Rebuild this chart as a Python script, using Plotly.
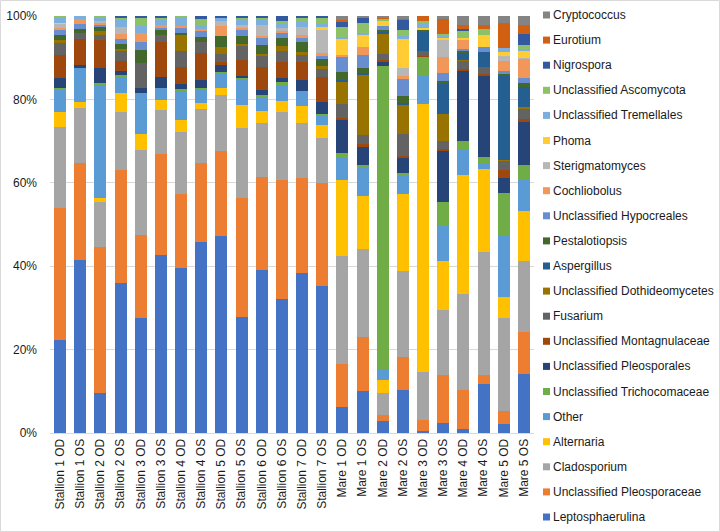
import plotly.graph_objects as go

categories = ["Stallion 1 OD", "Stallion 1 OS", "Stallion 2 OD", "Stallion 2 OS", "Stallion 3 OD",
              "Stallion 3 OS", "Stallion 4 OD", "Stallion 4 OS", "Stallion 5 OD", "Stallion 5 OS",
              "Stallion 6 OD", "Stallion 6 OS", "Stallion 7 OD", "Stallion 7 OS", "Mare 1 OD",
              "Mare 1 OS", "Mare 2 OD", "Mare 2 OS", "Mare 3 OD", "Mare 3 OS", "Mare 4 OD",
              "Mare 4 OS", "Mare 5 OD", "Mare 5 OS"]

leptosphaerulina = [22.4, 41.5, 9.6, 35.9, 27.5, 42.7, 39.5, 46.0, 47.3, 27.8, 39.1, 32.2, 38.3, 35.3, 6.2, 10.2, 3.0, 10.2, 0.6, 2.4, 1.0, 11.8, 2.2, 14.2]
pleosporaceae = [31.7, 23.2, 35.1, 27.2, 20.0, 24.2, 17.6, 18.9, 20.4, 28.5, 22.2, 28.5, 22.8, 24.8, 10.4, 12.9, 1.4, 8.1, 2.4, 11.4, 9.3, 2.2, 3.2, 10.0]
cladosporium = [19.3, 13.2, 10.8, 13.9, 20.3, 10.5, 14.8, 13.0, 13.3, 16.6, 12.9, 16.3, 13.3, 10.8, 25.9, 21.2, 5.1, 20.6, 11.6, 15.7, 23.0, 29.6, 22.2, 17.1]
alternaria = [3.7, 1.5, 1.0, 4.6, 3.8, 2.4, 3.0, 1.4, 1.8, 5.6, 2.9, 2.6, 4.0, 3.2, 18.2, 12.8, 3.2, 18.4, 64.4, 11.7, 28.6, 20.1, 5.1, 12.0]
other = [5.3, 8.2, 27.4, 3.8, 10.0, 2.8, 7.0, 3.5, 3.6, 6.1, 3.5, 4.0, 3.6, 2.4, 5.3, 6.6, 2.6, 4.4, 6.8, 8.5, 6.0, 1.4, 14.6, 7.2]
trichocomaceae = [0.3, 0, 0.4, 0.5, 0, 0, 0.4, 0.2, 0.2, 0.3, 0.3, 0.4, 0.2, 0.3, 1.0, 0.8, 72.8, 0.6, 4.4, 5.6, 2.2, 1.5, 10.2, 3.6]
pleosporales = [2.4, 0.6, 3.4, 0.8, 1.1, 2.8, 1.2, 1.8, 1.6, 0.4, 1.2, 1.0, 2.6, 2.8, 7.9, 4.4, 1.0, 3.8, 0, 12.4, 16.8, 19.6, 3.8, 10.5]
montagnulaceae = [5.6, 6.2, 6.8, 2.4, 0, 8.2, 4.0, 6.6, 0.8, 4.0, 5.6, 3.8, 4.2, 6.0, 0.5, 0.6, 0.5, 0.3, 0.2, 0.5, 0.5, 0.4, 1.8, 0.6]
fusarium = [3.0, 1.6, 1.2, 2.4, 6.0, 1.8, 3.8, 2.6, 2.0, 3.2, 2.6, 2.6, 1.8, 2.0, 3.4, 2.2, 1.4, 5.2, 1.1, 1.8, 1.9, 1.6, 2.2, 2.6]
dothideomycetes = [0.6, 0, 1.0, 0.5, 0, 0, 3.8, 0, 1.6, 0.5, 0.5, 1.2, 0.6, 0.6, 5.4, 14.4, 4.8, 7.0, 0, 6.4, 0.2, 0, 0.2, 0.4]
aspergillus = [0, 0, 0, 0, 0, 0, 0, 0, 0, 0, 0, 0, 0, 0, 0.4, 0.6, 0.5, 0.5, 4.6, 7.4, 1.8, 3.6, 20.1, 4.6]
pestalotiopsis = [1.2, 1.0, 1.0, 1.4, 3.2, 1.2, 0.6, 1.2, 2.6, 1.8, 2.0, 2.1, 2.5, 1.8, 2.0, 1.1, 0.5, 1.6, 0.6, 0.6, 0.3, 0, 0.6, 1.0]
hypocreales = [1.2, 1.2, 0.5, 1.2, 1.8, 0.5, 1.1, 1.4, 0, 1.6, 1.8, 1.3, 1.0, 0.8, 3.6, 3.2, 1.0, 4.0, 0, 2.0, 0.5, 1.2, 0.8, 1.2]
cochliobolus = [0.6, 1.0, 0.3, 1.0, 2.2, 0.6, 0.6, 0.5, 2.4, 0.5, 0.5, 0.4, 0.6, 0.6, 0.4, 1.8, 0, 0.8, 0, 3.8, 2.2, 0, 2.4, 4.6]
sterigmatomyces = [1.0, 0, 0.5, 1.8, 0, 0, 0, 0, 1.1, 0.6, 2.5, 0.6, 2.0, 5.6, 0, 0, 0, 2.0, 0, 4.0, 0, 0, 1.0, 0.3]
phoma = [0.2, 0, 0, 0, 0, 0, 0, 0, 0, 0, 0, 0, 0, 0.6, 3.8, 3.0, 1.0, 7.0, 0.5, 0.6, 0.5, 3.0, 1.0, 1.8]
tremellales = [1.3, 0.8, 0.8, 1.6, 1.8, 1.2, 2.0, 1.0, 0.8, 1.2, 1.2, 1.2, 1.3, 0.8, 0.5, 0.5, 0, 0.5, 1.0, 0.5, 0, 0, 1.1, 0.4]
ascomycota = [0.3, 0, 0.5, 0.5, 1.8, 0.5, 0.3, 1.4, 0, 0.5, 0.5, 0.5, 0.8, 1.4, 2.4, 2.4, 0.8, 1.6, 0.5, 0.5, 1.6, 1.3, 0, 0.8]
nigrospora = [0, 0, 0, 0.5, 0.5, 0.5, 0, 0.8, 0.5, 0.5, 0.5, 1.2, 0.5, 0.5, 1.2, 1.1, 0, 2.4, 0, 0, 0.6, 0, 0, 2.8]
eurotium = [0, 0, 0, 0, 0, 0, 0, 0, 0, 0, 0, 0, 0, 0, 0.4, 0, 0.2, 0.3, 1.3, 3.6, 0.8, 1.0, 6.0, 2.0]
cryptococcus = [0, 0, 0, 0, 0, 0, 0, 0, 0, 0, 0, 0, 0, 0, 1.0, 0.5, 0.3, 0.6, 0, 0.6, 2.2, 2.2, 1.6, 2.2]

y_tickvals = [0, 20, 40, 60, 80, 100]
y_ticktext = ["0%", "20%", "40%", "60%", "80%", "100%"]

series = [
    ("Leptosphaerulina", leptosphaerulina, "#4472C4"),
    ("Unclassified Pleosporaceae", pleosporaceae, "#ED7D31"),
    ("Cladosporium", cladosporium, "#A5A5A5"),
    ("Alternaria", alternaria, "#FFC000"),
    ("Other", other, "#5B9BD5"),
    ("Unclassified Trichocomaceae", trichocomaceae, "#70AD47"),
    ("Unclassified Pleosporales", pleosporales, "#264478"),
    ("Unclassified Montagnulaceae", montagnulaceae, "#9E480E"),
    ("Fusarium", fusarium, "#636363"),
    ("Unclassified Dothideomycetes", dothideomycetes, "#997300"),
    ("Aspergillus", aspergillus, "#255E91"),
    ("Pestalotiopsis", pestalotiopsis, "#43682B"),
    ("Unclassified Hypocreales", hypocreales, "#698ED0"),
    ("Cochliobolus", cochliobolus, "#F1975A"),
    ("Sterigmatomyces", sterigmatomyces, "#B7B7B7"),
    ("Phoma", phoma, "#FFCD33"),
    ("Unclassified Tremellales", tremellales, "#7CAFDD"),
    ("Unclassified Ascomycota", ascomycota, "#8CC168"),
    ("Nigrospora", nigrospora, "#335AA1"),
    ("Eurotium", eurotium, "#D26012"),
    ("Cryptococcus", cryptococcus, "#848484"),
]

FONT = "Liberation Sans, Arial, sans-serif"
# full-window figure; the page body margin is removed in post_script
W, H = 720, 532
L, R, T, B = 50, 186, 16, 99
PW, PH = W - L - R, H - T - B

fig = go.Figure()
for name, vals, col in series:
    fig.add_trace(go.Bar(name=name, x=categories, y=vals, marker=dict(color=col, line=dict(width=0)),
                         showlegend=False))

# custom legend (top item = last series)
shapes = []
annotations = []
for i, (name, vals, col) in enumerate(reversed(series)):
    py = 15 + 25.1 * i
    ypap = (H - B - py) / PH
    shapes.append(dict(type="rect", xref="paper", yref="paper",
                       x0=(543 - L) / PW, x1=(550 - L) / PW,
                       y0=ypap - 3.5 / PH, y1=ypap + 3.5 / PH,
                       fillcolor=col, line=dict(width=0)))
    annotations.append(dict(xref="paper", yref="paper", x=(551 - L) / PW, y=ypap,
                            xanchor="left", yanchor="middle", text=name, showarrow=False,
                            font=dict(family=FONT, size=12, color="#1a1a1a")))

# light chart-area border
shapes.append(dict(type="rect", xref="paper", yref="paper",
                   x0=(0.5 - L) / PW, x1=(W - 0.5 - L) / PW,
                   y0=(H - B - (H - 0.5)) / PH, y1=(H - B - 0.5) / PH,
                   line=dict(color="#D9D9D9", width=1), fillcolor="rgba(0,0,0,0)", layer="below"))

fig.update_layout(
    width=W, height=H,
    margin=dict(l=L, r=R, t=T, b=B, autoexpand=False),
    barmode="stack", barnorm="percent", bargap=0.4,
    plot_bgcolor="white", paper_bgcolor="white",
    font=dict(family=FONT, size=12, color="#1a1a1a"),
    shapes=shapes, annotations=annotations,
    xaxis=dict(tickangle=-90, showgrid=False, showline=True, linecolor="#D9D9D9", linewidth=1,
               ticks="", tickfont=dict(family=FONT, size=12, color="#1a1a1a")),
    yaxis=dict(range=[0, 100], tickmode="array", tickvals=y_tickvals, ticktext=y_ticktext,
               showgrid=True, gridcolor="#D9D9D9", gridwidth=1, zeroline=False,
               showline=False, ticks="", ticklabelstandoff=12,
               tickfont=dict(family=FONT, size=12, color="#1a1a1a")),
)

fig.write_html("out.html", config={"displayModeBar": False},
               post_script="document.body.style.margin='0';document.body.style.overflow='hidden';")
